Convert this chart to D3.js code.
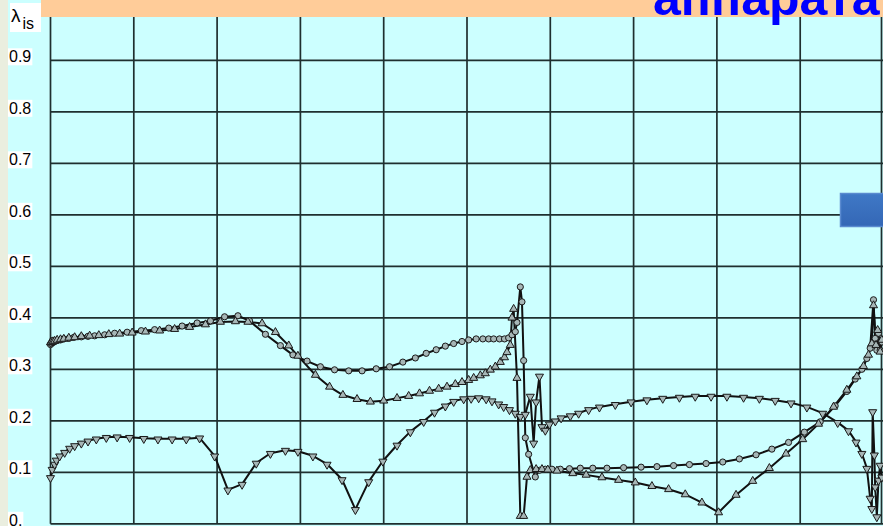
<!DOCTYPE html>
<html lang="ru">
<head>
    <meta charset="UTF-8">
    <title>lambda_is</title>
    <script src="https://d3js.org/d3.v7.min.js"></script>
    <style>
        body {
            margin: 0;
            font-family: "Liberation Sans", Arial, sans-serif;
        }
        svg {
            display: block;
        }
        .tick-label {
            font-size: 16px;
            fill: #000;
        }
        .series-line {
            fill: none;
            stroke: #111;
            stroke-width: 2;
            stroke-linejoin: round;
        }
        .marker {
            fill: #a6b6b6;
            stroke: #1a1a1a;
            stroke-width: 1;
        }
    </style>
</head>
<body>
    <svg id="chart" width="883" height="526"></svg>

    <script>
        // Y tick labels as printed on the slide
        const yTicks = [0, 0.1, 0.2, 0.3, 0.4, 0.5, 0.6, 0.7, 0.8, 0.9];
        const yTickLabels = ["0.", "0.1", "0.2", "0.3", "0.4", "0.5", "0.6", "0.7", "0.8", "0.9"];
        const xTicks = [0, 0.1, 0.2, 0.3, 0.4, 0.5, 0.6, 0.7, 0.8, 0.9, 1];
        const title = "аппарата";

        // Series: circles
        const circX = [0, 0.001, 0.003, 0.005, 0.008, 0.012, 0.016, 0.022, 0.028, 0.037, 0.045, 0.053,
            0.065, 0.077, 0.092, 0.109, 0.125, 0.142, 0.158, 0.176, 0.192, 0.209, 0.225, 0.239, 0.258,
            0.276, 0.291, 0.308, 0.324, 0.341, 0.358, 0.374, 0.391, 0.407, 0.423, 0.438, 0.451, 0.463,
            0.474, 0.484, 0.494, 0.502, 0.511, 0.519, 0.526, 0.532, 0.539, 0.545, 0.550, 0.554, 0.558,
            0.560, 0.564, 0.566, 0.568, 0.570, 0.574, 0.582, 0.587, 0.594, 0.602, 0.612, 0.623, 0.636,
            0.651, 0.668, 0.688, 0.709, 0.728, 0.748, 0.767, 0.787, 0.807, 0.827, 0.847, 0.866, 0.886,
            0.905, 0.924, 0.942, 0.956, 0.966, 0.974, 0.980, 0.984, 0.988, 0.990, 0.992, 0.994, 0.996, 0.998];
        const circY = [0.348, 0.350, 0.352, 0.354, 0.356, 0.357, 0.359, 0.360, 0.362, 0.363, 0.364, 0.365,
            0.367, 0.370, 0.372, 0.375, 0.377, 0.380, 0.384, 0.390, 0.394, 0.402, 0.404, 0.394, 0.368,
            0.346, 0.328, 0.316, 0.305, 0.299, 0.297, 0.297, 0.301, 0.305, 0.314, 0.322, 0.331, 0.338,
            0.345, 0.350, 0.354, 0.357, 0.359, 0.359, 0.359, 0.359, 0.359, 0.359, 0.361, 0.367, 0.373,
            0.391, 0.460, 0.431, 0.317, 0.167, 0.135, 0.091, 0.104, 0.106, 0.106, 0.106, 0.107, 0.108,
            0.108, 0.108, 0.109, 0.110, 0.111, 0.113, 0.115, 0.117, 0.120, 0.126, 0.134, 0.145, 0.158,
            0.178, 0.198, 0.229, 0.257, 0.281, 0.300, 0.321, 0.341, 0.435, 0.360, 0.337, 0.370, 0.337, 0.353];

        // Series: up triangles
        const upX = [0, 0.001, 0.003, 0.005, 0.008, 0.012, 0.016, 0.022, 0.029, 0.037, 0.047, 0.058,
            0.070, 0.083, 0.098, 0.114, 0.131, 0.149, 0.167, 0.186, 0.204, 0.222, 0.237, 0.254, 0.270,
            0.286, 0.297, 0.318, 0.335, 0.351, 0.368, 0.384, 0.400, 0.416, 0.430, 0.443, 0.455, 0.466,
            0.476, 0.486, 0.494, 0.502, 0.508, 0.516, 0.522, 0.528, 0.534, 0.540, 0.545, 0.548, 0.552,
            0.554, 0.556, 0.560, 0.564, 0.568, 0.572, 0.576, 0.583, 0.590, 0.597, 0.608, 0.627, 0.643,
            0.662, 0.682, 0.702, 0.722, 0.742, 0.762, 0.782, 0.802, 0.823, 0.843, 0.863, 0.883, 0.903,
            0.922, 0.940, 0.956, 0.968, 0.976, 0.982, 0.986, 0.988, 0.991, 0.993, 0.996, 0.998];
        const upY = [0.352, 0.353, 0.354, 0.355, 0.357, 0.358, 0.359, 0.361, 0.362, 0.364, 0.365, 0.366,
            0.368, 0.369, 0.371, 0.373, 0.375, 0.378, 0.382, 0.387, 0.392, 0.393, 0.392, 0.389, 0.372,
            0.346, 0.326, 0.289, 0.266, 0.250, 0.242, 0.237, 0.239, 0.244, 0.248, 0.253, 0.258, 0.262,
            0.266, 0.271, 0.275, 0.279, 0.283, 0.288, 0.292, 0.299, 0.305, 0.314, 0.323, 0.333, 0.347,
            0.400, 0.417, 0.283, 0.015, 0.015, 0.091, 0.104, 0.106, 0.106, 0.105, 0.103, 0.098, 0.095,
            0.090, 0.085, 0.080, 0.073, 0.067, 0.057, 0.041, 0.022, 0.056, 0.083, 0.108, 0.136, 0.164,
            0.194, 0.227, 0.260, 0.286, 0.306, 0.328, 0.350, 0.424, 0.347, 0.376, 0.334, 0.357];

        // Series: down triangles
        const downX = [0, 0.002, 0.005, 0.007, 0.011, 0.017, 0.023, 0.029, 0.037, 0.045, 0.055, 0.067,
            0.080, 0.095, 0.112, 0.129, 0.146, 0.163, 0.179, 0.197, 0.213, 0.230, 0.247, 0.264, 0.282,
            0.297, 0.315, 0.332, 0.350, 0.366, 0.382, 0.399, 0.416, 0.432, 0.448, 0.461, 0.474, 0.484,
            0.496, 0.505, 0.514, 0.523, 0.530, 0.538, 0.544, 0.551, 0.558, 0.564, 0.570, 0.576, 0.580,
            0.583, 0.587, 0.590, 0.594, 0.599, 0.606, 0.613, 0.624, 0.634, 0.646, 0.659, 0.678, 0.697,
            0.716, 0.735, 0.755, 0.774, 0.793, 0.812, 0.832, 0.851, 0.870, 0.889, 0.908, 0.927, 0.945,
            0.958, 0.967, 0.974, 0.980, 0.984, 0.986, 0.987, 0.989, 0.990, 0.992, 0.994, 0.996, 0.998];
        const downY = [0.090, 0.106, 0.116, 0.124, 0.132, 0.139, 0.147, 0.152, 0.157, 0.161, 0.165, 0.168,
            0.169, 0.168, 0.166, 0.165, 0.165, 0.165, 0.167, 0.132, 0.066, 0.077, 0.118, 0.137, 0.143,
            0.141, 0.132, 0.116, 0.086, 0.028, 0.082, 0.122, 0.153, 0.179, 0.199, 0.217, 0.229, 0.238,
            0.243, 0.244, 0.245, 0.243, 0.239, 0.233, 0.228, 0.222, 0.215, 0.209, 0.213, 0.248, 0.157,
            0.237, 0.287, 0.189, 0.182, 0.194, 0.200, 0.206, 0.210, 0.215, 0.222, 0.227, 0.232, 0.237,
            0.241, 0.244, 0.246, 0.248, 0.248, 0.248, 0.246, 0.244, 0.240, 0.235, 0.227, 0.215, 0.197,
            0.181, 0.159, 0.137, 0.108, 0.050, 0.030, 0.218, 0.134, 0.072, 0.014, 0.085, 0.114, 0.091];

        const series = [
            { x: circX, y: circY, symbol: d3.symbolCircle, rotate: 0, size: 30 },
            { x: upX, y: upY, symbol: d3.symbolTriangle, rotate: 0, size: 28 },
            { x: downX, y: downY, symbol: d3.symbolTriangle, rotate: 180, size: 28 }
        ];

        const svg = d3.select("#chart");
        const width = +svg.attr("width");
        const height = +svg.attr("height");

        const xScale = d3.scaleLinear().domain([0, 1]).range([50.5, 883.5]);
        const yScale = d3.scaleLinear().domain([0, 1]).range([523.8, 8.8]);
        const plotTop = 17;

        // Backgrounds
        svg.append("rect").attr("width", width).attr("height", height).attr("fill", "#ccffff");
        svg.append("rect").attr("width", 8).attr("height", height).attr("fill", "#eaeedf");

        // Grid lines
        const grid = svg.append("g").attr("stroke", "#1f2f2f").attr("stroke-width", 1.7);
        grid.selectAll(".hgrid")
            .data(yTicks)
            .enter()
            .append("line")
            .attr("x1", xScale(0))
            .attr("x2", width)
            .attr("y1", d => yScale(d))
            .attr("y2", d => yScale(d));
        grid.selectAll(".vgrid")
            .data(xTicks)
            .enter()
            .append("line")
            .attr("x1", d => xScale(d) - (d === 1 ? 2 : 0))
            .attr("x2", d => xScale(d) - (d === 1 ? 2 : 0))
            .attr("y1", plotTop)
            .attr("y2", yScale(0));

        // Lines and markers
        const line = d3.line()
            .x(d => xScale(d[0]))
            .y(d => yScale(d[1]));

        const plot = svg.append("g");
        series.forEach(s => {
            const pts = s.x.map((v, i) => [v, s.y[i]]);
            plot.append("path").attr("class", "series-line").attr("d", line(pts));
        });
        series.forEach(s => {
            const pts = s.x.map((v, i) => [v, s.y[i]]);
            const sym = d3.symbol().type(s.symbol).size(s.size);
            plot.selectAll(null)
                .data(pts)
                .enter()
                .append("path")
                .attr("class", "marker")
                .attr("d", sym)
                .attr("transform", d => `translate(${xScale(d[0])},${yScale(d[1]) + (s.rotate ? 0.5 : 0)}) rotate(${s.rotate})`);
        });

        // Blue box on right side of slide
        const defs = svg.append("defs");
        const grad = defs.append("linearGradient").attr("id", "boxGrad").attr("x1", 0).attr("y1", 0).attr("x2", 0).attr("y2", 1);
        grad.append("stop").attr("offset", "0%").attr("stop-color", "#3f78c6");
        grad.append("stop").attr("offset", "100%").attr("stop-color", "#3467b6");
        svg.append("rect")
            .attr("x", 840.5).attr("y", 193.5)
            .attr("width", 50).attr("height", 33)
            .attr("fill", "url(#boxGrad)")
            .attr("stroke", "#5a8ad0")
            .attr("stroke-width", 1.5);

        // Top orange band and title
        svg.append("rect").attr("x", 41).attr("y", 0).attr("width", width - 41).attr("height", plotTop).attr("fill", "#ffcc99");
        svg.append("text")
            .attr("x", 653)
            .attr("y", 15)
            .attr("fill", "#0000ff")
            .style("font-size", "50px")
            .style("font-weight", "bold")
            .text(title);

        // Y tick labels with white boxes
        const labels = svg.append("g");
        yTicks.forEach((t, i) => {
            const g = labels.append("g");
            const txt = g.append("text")
                .attr("class", "tick-label")
                .attr("x", 9)
                .attr("y", yScale(t) + 2)
                .text(yTickLabels[i]);
            const bb = txt.node().getBBox();
            g.insert("rect", "text")
                .attr("x", bb.x - 1)
                .attr("y", bb.y)
                .attr("width", bb.width + 2)
                .attr("height", bb.height)
                .attr("fill", "#fff");
        });

        // Axis title lambda_is
        const yt = svg.append("g");
        yt.append("rect").attr("x", 10).attr("y", 3).attr("width", 31).attr("height", 29).attr("fill", "#fff");
        const tt = yt.append("text").attr("x", 11).attr("y", 22).style("font-size", "19px");
        tt.append("tspan").text("λ");
        tt.append("tspan").attr("dy", 7).attr("dx", 2).style("font-size", "16px").text("is");
    </script>
</body>
</html>
